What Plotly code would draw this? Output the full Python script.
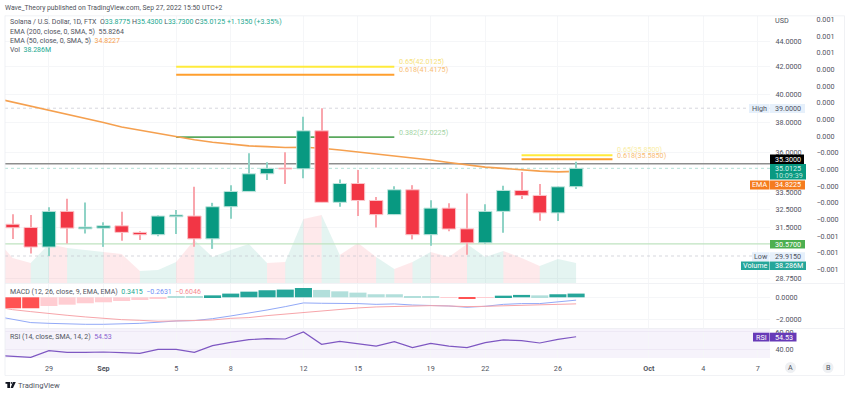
import numpy as np
import pandas as pd
import plotly.graph_objects as go

W, H = 850, 394
L, R, T, B = 5, 770, 16, 358

dates = pd.date_range("2022-08-26", "2022-09-27").strftime("%Y-%m-%d").tolist()
candle_dates = dates[1:]

opens = [31.67,31.49,30.40,32.41,31.41,31.45,31.58,31.21,31.08,32.10,32.14,30.85,32.68,33.59,34.67,35.03,
         34.98,37.45,32.94,34.07,33.05,32.22,33.69,31.08,32.60,31.41,30.63,32.41,33.65,33.35,32.32,33.8775]
highs = [32.24,32.20,32.65,33.15,32.93,31.78,32.39,31.27,32.18,32.49,33.87,32.91,33.97,35.97,35.39,36.03,
         38.41,39.00,34.32,34.90,33.25,33.91,33.97,33.07,32.88,33.47,32.82,33.93,34.78,34.04,33.91,35.43]
lows = [30.84,30.05,29.915,30.60,31.15,30.41,30.74,30.78,31.00,31.12,30.41,30.30,31.99,33.57,34.28,34.04,
        34.40,32.94,32.68,32.14,31.49,32.22,30.82,30.47,31.28,29.98,30.56,31.19,33.13,31.87,31.85,33.73]
closes = [31.47,30.40,32.41,31.45,31.51,31.58,31.21,31.08,32.14,32.20,30.85,32.68,33.59,34.67,35.01,34.97,
          37.45,32.94,34.07,33.05,32.22,33.69,31.08,32.60,31.40,30.63,32.41,33.65,33.35,32.32,33.87,35.0125]

ema50 = [39.72,39.44,39.16,38.87,38.60,38.32,38.02,37.71,37.50,37.27,37.05,36.85,36.69,36.55,36.45,36.40,36.35,
         36.36,36.30,36.18,36.05,35.93,35.84,35.70,35.54,35.38,35.22,35.09,35.01,34.91,34.84,34.79,34.82]

volume = [88,47.9,38.3,74.6,67,63.2,59.3,55.5,23,24.9,40.2,82.3,49.8,63.2,74.6,38.3,40.2,
          122.5,130.2,53.6,76.6,49.8,26.8,40.2,59.3,49.8,74.6,49.8,61.3,47.9,32.6,46,38.286]
volume_up = [False,False,True,False,True,True,False,False,True,True,False,True,True,True,True,False,
             True,False,True,False,False,True,False,True,False,False,True,True,False,False,True,True]

macd_hist = [-1.01,-1.01,-0.80,-0.68,-0.55,-0.46,-0.34,-0.25,-0.12,0.06,0.12,0.18,0.34,0.52,0.65,0.71,
             0.86,0.68,0.55,0.43,0.28,0.28,0.12,0.12,-0.06,-0.15,-0.03,0.15,0.22,0.18,0.28,0.3415]
hist_tones = ["D","D","d","d","d","d","d","d","d","u","u","U","U","U","U","U","U","u","u","u","u","u","u","u",
              "d","D","d","U","U","u","U","U"]
macd_line = [-1.72,-2.06,-2.33,-2.40,-2.46,-2.49,-2.49,-2.46,-2.40,-2.30,-2.18,-2.15,-1.97,-1.72,-1.47,-1.17,-0.86,
             -0.52,-0.55,-0.55,-0.58,-0.65,-0.61,-0.71,-0.74,-0.80,-0.92,-0.83,-0.65,-0.58,-0.58,-0.43,-0.2631]
signal_line = [-0.83,-1.14,-1.32,-1.51,-1.66,-1.81,-1.94,-2.06,-2.12,-2.21,-2.18,-2.15,-2.09,-1.94,-1.87,-1.69,-1.54,
               -1.38,-1.23,-1.11,-0.98,-0.89,-0.83,-0.80,-0.77,-0.80,-0.86,-0.83,-0.80,-0.77,-0.71,-0.65,-0.6046]
rsi = [33.1,32.3,30.8,38.5,36.5,36.5,36.9,36.2,35.4,40.0,40.0,36.5,44.2,48.1,51.2,52.3,51.9,
       60.0,45.8,49.2,46.5,43.8,48.8,41.9,46.9,43.8,41.9,47.7,50.8,50.0,47.3,51.5,54.53]

price_ticks = [44.0, 42.0, 40.0, 38.0, 36.0, 33.5, 32.5, 31.5, 28.75]
price_labels = ["44.0000","42.0000","40.0000","38.0000","36.0000","33.5000","32.5000","31.5000","28.7500"]
aux_ticks = [0.00075,0.00065,0.00055,0.00045,0.00035,0.00025,0.00015,0.00005,
             -0.00005,-0.00015,-0.00025,-0.00035,-0.00045,-0.00055,-0.00065,-0.00075]
aux_labels = ["0.001"]*3 + ["0.000"]*5 + ["\u22120.000"]*5 + ["\u22120.001"]*3
x_ticks = ["2022-08-29","2022-09-01","2022-09-05","2022-09-08","2022-09-12","2022-09-15","2022-09-19",
           "2022-09-22","2022-09-26","2022-10-01","2022-10-04","2022-10-07"]
x_labels = ["29","<b>Sep</b>","5","8","12","15","19","22","26","<b>Oct</b>","4","7"]

fib_a = {"start":"2022-09-05","end":"2022-09-17","levels":[42.0125,41.4175,37.0225],"names":["0.65(42.0125)","0.618(41.4175)","0.382(37.0225)"]}
fib_b = {"start":"2022-09-24","end":"2022-09-29","levels":[35.85,35.585],"names":["0.65(35.8500)","0.618(35.5850)"]}
level_last = 35.3
level_close = 35.0125
level_support = 30.57
level_high = 39.0
level_low = 29.915

UP, DOWN = "#089981", "#F23645"
FONT = "Roboto, Arial, sans-serif"
TXT = "#50535e"
GRID = "#f5f6f8"
FRAME = "#eceef2"
YEL, ORA, GRN = "#FFEB3B", "#FF9F2E", "#4CAF50"
TS = 7.2
DAY_MS = 86400000
PRICE_RANGE = [np.log10(28.50), np.log10(46.02)]

def px(x): return (x - L) / (R - L)
def py(y): return (B - y) / (B - T)

fig = go.Figure()

# volume (base axis so it sits under the candles)
for i in range(len(dates) - 1):
    c = "rgba(8,153,129,0.11)" if volume_up[i] else "rgba(242,54,69,0.11)"
    fig.add_trace(go.Scatter(x=dates[i:i+2], y=volume[i:i+2], mode="lines", line=dict(width=0),
                             fill="tozeroy", fillcolor=c, yaxis="y", hoverinfo="skip"))

def hline(x0, x1, val, color, width, dash="solid"):
    fig.add_trace(go.Scatter(x=[x0, x1], y=[val, val], mode="lines", yaxis="y2",
                             line=dict(color=color, width=width, dash=dash), hoverinfo="skip"))

xa, xb = "2022-08-26 14:00", "2022-10-07 16:00"
hline(xa, xb, level_high, "#c4c6ce", 0.7, "dot")
hline(xa, xb, level_low, "#c4c6ce", 0.7, "dot")
hline(xa, xb, level_support, "#bfe3c0", 1.2)
hline(xa, xb, level_close, "#9fd8cd", 0.8, "dot")
hline(xa, xb, level_last, "#8e8e8e", 1.6)

for col, v, w in zip([YEL, ORA, "#5aa85d"], fib_a["levels"], [2, 2, 1.8]):
    hline(fib_a["start"], fib_a["end"], v, col, w)
for col, v in zip([YEL, ORA], fib_b["levels"]):
    hline(fib_b["start"], fib_b["end"], v, col, 2)

fig.add_trace(go.Scatter(x=dates, y=ema50, mode="lines", yaxis="y2",
                         line=dict(color="#F5A04F", width=1.6), hoverinfo="skip"))

# candles on their own overlay, above the level lines and the EMA
rising = [c >= o for o, c in zip(opens, closes)]
fig.add_trace(go.Bar(x=candle_dates, base=lows, y=[h - l for h, l in zip(highs, lows)], yaxis="y6",
                     width=DAY_MS * 0.06, hoverinfo="skip",
                     marker=dict(color=["#8fd3c6" if r else "#f9a6ad" for r in rising], line=dict(width=0))))
fig.add_trace(go.Bar(x=candle_dates, base=[min(o, c) for o, c in zip(opens, closes)],
                     y=[abs(c - o) for o, c in zip(opens, closes)], yaxis="y6",
                     width=DAY_MS * 0.74, hoverinfo="skip",
                     marker=dict(color=[UP if r else DOWN for r in rising],
                                 line=dict(width=1, color=["#bfe5dd" if r else "#fbc5ca" for r in rising]))))

# auxiliary scale
fig.add_trace(go.Scatter(x=dates[:2], y=[0, 0], mode="lines", yaxis="y3", line=dict(width=0), hoverinfo="skip"))

# MACD
tone = {"U": "#26A69A", "u": "#B2DFDB", "D": "#FF5252", "d": "#FFCDD2"}
fig.add_trace(go.Bar(x=candle_dates, y=macd_hist, yaxis="y4", width=DAY_MS * 0.94,
                     marker=dict(color=[tone[t] for t in hist_tones], line=dict(width=0)), hoverinfo="skip"))
fig.add_trace(go.Scatter(x=dates, y=macd_line, mode="lines", yaxis="y4", line=dict(color="#92a9f7", width=1), hoverinfo="skip"))
fig.add_trace(go.Scatter(x=dates, y=signal_line, mode="lines", yaxis="y4", line=dict(color="#f7a5aa", width=1), hoverinfo="skip"))

# RSI
fig.add_trace(go.Scatter(x=dates, y=rsi, mode="lines", yaxis="y5", line=dict(color="#7E57C2", width=1.2), hoverinfo="skip"))

shapes, annos = [], []
def rect(x0, y0, x1, y1, fill, line=None, kind="rect", layer="above"):
    shapes.append(dict(type=kind, xref="paper", yref="paper", x0=px(x0), x1=px(x1), y0=py(y0), y1=py(y1),
                       fillcolor=fill, line=dict(width=0 if line is None else 1, color=line or fill), layer=layer))
def text(x, y, s, size=TS, color=TXT, anchor="left"):
    annos.append(dict(xref="paper", yref="paper", x=px(x), y=py(y), text=s, showarrow=False, xanchor=anchor,
                      yanchor="middle", font=dict(family=FONT, size=size, color=color), xshift=0, yshift=0,
                      borderpad=0, borderwidth=0))

# RSI band
rect(L, 328, R, 358, "rgba(126,87,194,0.07)", layer="below")
# frame
for y in (15.5, 283, 328, 375):
    rect(L, y, 844, y + 0.8, FRAME)
for x in (4.6, 844):
    rect(x, 15.5, x + 0.8, 375.5, FRAME)

def span(s, c): return f'<span style="color:{c}">{s}</span>'
G = "#22a88f"
text(5, 8, "Wave_Theory published on TradingView.com, Sep 27, 2022 15:50 UTC+2", 6.8, "#4e5159")
text(9.5, 22.5, "Solana / U.S. Dollar, 1D, FTX  O" + span("33.8775", G) + " H" + span("35.4300", G) + " L" + span("33.7300", G)
     + " C" + span("35.0125", G) + " " + span("+1.1350 (+3.35%)", G), 7)
text(9.5, 32, "EMA (200, close, 0, SMA, 5)  55.8264", 7)
text(9.5, 41, "EMA (50, close, 0, SMA, 5)  " + span("34.8227", "#F5A04F"), 7)
text(9.5, 50, "Vol  " + span("38.286M", G), 7)
text(9.5, 291.7, "MACD (12, 26, close, 9, EMA, EMA)  " + span("0.3415", G) + "  " + span("\u22120.2631", "#6f8ff5") + "  " + span("\u22120.6046", "#f58a90"), 7)
text(9.5, 337.3, "RSI (14, close, SMA, 14, 2)  " + span("54.53", "#8a63cf"), 7)

# fib labels
text(399, 61.7, fib_a["names"][0], TS, "#f6e27a")
text(399, 69.7, fib_a["names"][1], TS, "#f8bd74")
text(399, 132.3, fib_a["names"][2], TS, "#a3d4a5")
text(617, 149.3, fib_b["names"][0], TS, "#f9eda6")
text(617, 155, fib_b["names"][1], TS, "#f8bd74")

# price tags
text(775, 21, "USD", TS)
rect(749, 104, 769.5, 113, "#e6f0fb"); rect(770, 104, 805, 113, "#e6f0fb")
text(759, 108.5, "High", TS, "#50535e", "center"); text(775, 108.5, "39.0000", TS)
rect(770, 154.5, 804, 164, "#000000"); text(775, 159.3, "35.3000", TS, "#ffffff")
rect(770, 164, 806, 179.5, "#089981")
text(775, 168.5, "35.0125", TS, "#d6f0ea"); text(775, 175.5, "10:09:39", TS, "#bfe6dd")
rect(750, 180.5, 769.5, 189.5, "#F57C1F"); rect(770, 180.5, 805, 189.5, "#F57C1F")
text(759.7, 185, "EMA", TS, "#ffffff", "center"); text(775, 185, "34.8225", TS, "#ffffff")
rect(770, 240, 805, 248.5, "#4CAF50"); text(775, 244.2, "30.5700", TS, "#ffffff")
rect(752, 252.3, 769.5, 261, "#e6f0fb"); rect(770, 252.3, 805, 261, "#e6f0fb")
text(760.7, 256.6, "Low", TS, "#50535e", "center"); text(775, 256.6, "29.9150", TS)
rect(741, 261.5, 769.5, 270, "#26A69A"); rect(770, 261.5, 806, 270, "#26A69A")
text(755, 265.8, "Volume", TS, "#ffffff", "center"); text(775, 265.8, "38.286M", TS, "#ffffff")
rect(753, 332.7, 769.5, 341.5, "#673AB7"); rect(770, 332.7, 796.5, 341.5, "#673AB7")
text(761, 337, "RSI", TS, "#ffffff", "center"); text(775, 337, "54.53", TS, "#ffffff")

# A / B buttons
rect(785, 362, 796, 373, "#eef0f3", kind="circle"); text(790.5, 367.6, "A", TS, TXT, "center")
rect(822.5, 362, 833.5, 373, "#eef0f3", kind="circle"); text(828, 367.6, "B", TS, TXT, "center")

# TradingView mark
rect(5.5, 382, 10, 383.8, "#131722"); rect(7.3, 382, 10, 388, "#131722")
rect(10.6, 382, 12.2, 383.8, "#131722", kind="circle")
shapes.append(dict(type="path", xref="paper", yref="paper", layer="above", fillcolor="#131722", line=dict(width=0),
                   path=f"M {px(12.8)} {py(382)} L {px(15.8)} {py(382)} L {px(13)} {py(388)} L {px(10.6)} {py(388)} Z"))
text(18, 385, "TradingView", 7.6, "#50535e")

axfont = dict(family=FONT, size=TS, color=TXT)
layout = dict(
    width=W, height=H, showlegend=False, paper_bgcolor="#ffffff", plot_bgcolor="#ffffff",
    margin=dict(l=L, r=W - R, t=T, b=H - B, pad=0), barmode="overlay",
    shapes=shapes, annotations=annos, font=dict(family=FONT),
    xaxis=dict(type="date", range=[xa, xb], anchor="y5", tickvals=x_ticks, ticktext=x_labels, tickangle=0,
               showgrid=True, gridcolor=GRID, gridwidth=1, showline=False, zeroline=False, ticks="outside", ticklen=3,
               tickcolor="rgba(0,0,0,0)", tickfont=axfont, rangeslider=dict(visible=False)),
    yaxis=dict(domain=[py(283), 1], range=[0, 511], visible=False, fixedrange=True),
    yaxis2=dict(domain=[py(283), 1], overlaying="y", side="right", anchor="x", type="log",
                range=PRICE_RANGE, tickvals=price_ticks, ticktext=price_labels,
                showgrid=True, gridcolor=GRID, gridwidth=1, zeroline=False, ticks="outside", ticklen=3,
                tickcolor="rgba(0,0,0,0)", tickfont=axfont),
    yaxis3=dict(domain=[py(283), 1], overlaying="y", side="right", anchor="x",
                range=[(144.33 - 283) * 0.0001 / 16.67, (144.33 - 16) * 0.0001 / 16.67],
                tickvals=aux_ticks, ticktext=aux_labels, showgrid=False, zeroline=False, ticks="outside", ticklen=44,
                tickcolor="rgba(0,0,0,0)", tickfont=axfont),
    yaxis4=dict(domain=[py(328), py(284)], side="right", anchor="x", range=[-2.83, 1.226], tickvals=[0, -2],
                ticktext=["0.0000", "\u22122.0000"], showgrid=True, gridcolor=GRID, zeroline=False, ticks="outside",
                ticklen=3, tickcolor="rgba(0,0,0,0)", tickfont=axfont),
    yaxis5=dict(domain=[0, py(328)], side="right", anchor="x", range=[30, 64.6], tickvals=[60, 40],
                ticktext=["60.00", "40.00"], showgrid=True, gridcolor="#eee9f5", zeroline=False, ticks="outside",
                ticklen=3, tickcolor="rgba(0,0,0,0)", tickfont=axfont),
    yaxis6=dict(domain=[py(283), 1], overlaying="y", side="right", anchor="x", type="log", range=PRICE_RANGE,
                visible=False),
)
fig.update_layout(**layout)
fig.write_html("out.html", config=dict(displayModeBar=False),
               post_script="document.body.style.margin='0';document.documentElement.style.overflow='hidden';")
